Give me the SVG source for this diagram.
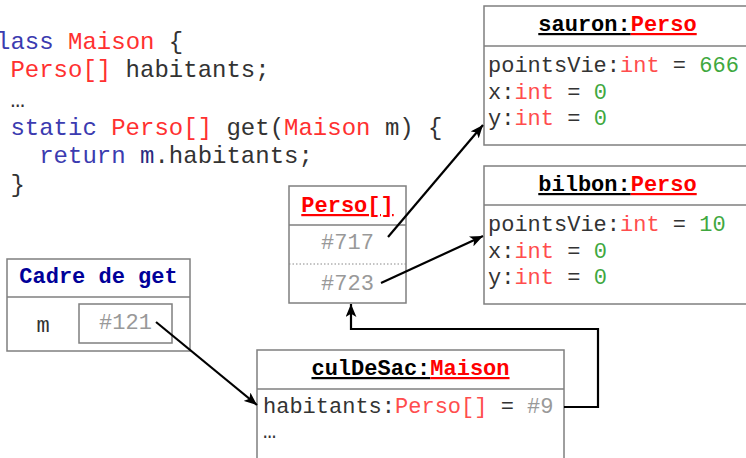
<svg xmlns="http://www.w3.org/2000/svg" width="746" height="458" viewBox="0 0 746 458">
<defs>
<style>
.code{font-family:"Liberation Mono","Courier New",monospace;font-size:24px;fill:#333}
.mono{font-family:"Liberation Mono","Courier New",monospace;font-size:22px;fill:#333}
.title{font-weight:bold;text-anchor:middle}
.u{text-decoration:underline}
.kw{fill:#3b3bb0}
.ty{fill:#ff3030}
.tyl{fill:#ff4d4d}
.val{fill:#3fa83f}
.ref{fill:#999}
.blk{fill:#000}
.red{fill:#ff0000}
.box{fill:#fff;stroke:#7f7f7f;stroke-width:1.5}
.sep{stroke:#7f7f7f;stroke-width:1.5}
.conn{fill:none;stroke:#000;stroke-width:2.2}
</style>
<marker id="arr" markerUnits="userSpaceOnUse" viewBox="0 0 12 10" refX="12" refY="5" markerWidth="13" markerHeight="11" orient="auto">
<path d="M0,0 L12,5 L0,10 L3,5 Z" fill="#000"/>
</marker>
</defs>

<g id="code" class="code" xml:space="preserve">
<text x="-18.4" y="49"><tspan class="kw">class</tspan> <tspan class="ty">Maison</tspan> {</text>
<text x="10.4" y="77"><tspan class="ty">Perso[]</tspan> habitants;</text>
<text x="10.4" y="107">…</text>
<text x="10.4" y="135"><tspan class="kw">static</tspan> <tspan class="ty">Perso[]</tspan> get(<tspan class="ty">Maison</tspan> m) {</text>
<text x="39.2" y="163"><tspan class="kw">return</tspan> <tspan fill="#2a2a80">m</tspan>.habitants;</text>
<text x="10.4" y="192">}</text>
</g>

<g id="sauron" class="mono">
<rect class="box" x="484" y="6" width="267" height="139"/>
<line class="sep" x1="484" y1="46" x2="751" y2="46"/>
<text class="title" x="617.5" y="31"><tspan class="blk u">sauron:</tspan><tspan class="red u">Perso</tspan></text>
<text x="488" y="72">pointsVie:<tspan class="tyl">int</tspan> = <tspan class="val">666</tspan></text>
<text x="488" y="99">x:<tspan class="tyl">int</tspan> = <tspan class="val">0</tspan></text>
<text x="488" y="125">y:<tspan class="tyl">int</tspan> = <tspan class="val">0</tspan></text>
</g>

<g id="bilbon" class="mono">
<rect class="box" x="484" y="166" width="267" height="138"/>
<line class="sep" x1="484" y1="205" x2="751" y2="205"/>
<text class="title" x="617.5" y="191"><tspan class="blk u">bilbon:</tspan><tspan class="red u">Perso</tspan></text>
<text x="488" y="231">pointsVie:<tspan class="tyl">int</tspan> = <tspan class="val">10</tspan></text>
<text x="488" y="258">x:<tspan class="tyl">int</tspan> = <tspan class="val">0</tspan></text>
<text x="488" y="284">y:<tspan class="tyl">int</tspan> = <tspan class="val">0</tspan></text>
</g>

<g id="tableau" class="mono">
<rect class="box" x="289" y="186" width="117" height="117"/>
<line class="sep" x1="289" y1="225" x2="406" y2="225"/>
<line x1="289" y1="264" x2="406" y2="264" stroke="#888" stroke-width="1" stroke-dasharray="1.5,2"/>
<text class="title" x="347.5" y="212"><tspan class="red u">Perso[]</tspan></text>
<text class="ref" x="347.5" y="249" text-anchor="middle">#717</text>
<text class="ref" x="347.5" y="290" text-anchor="middle">#723</text>
</g>

<g id="cadre" class="mono">
<rect class="box" x="7" y="259" width="183" height="92"/>
<line class="sep" x1="7" y1="297" x2="190" y2="297"/>
<text class="title" x="98.5" y="283" fill="#000099">Cadre de get</text>
<text x="43" y="332" text-anchor="middle">m</text>
<rect class="box" x="79" y="304" width="93" height="39"/>
<text class="ref" x="125.5" y="329" text-anchor="middle">#121</text>
</g>

<g id="culDeSac" class="mono">
<rect class="box" x="257" y="350" width="307" height="120"/>
<line class="sep" x1="257" y1="389" x2="564" y2="389"/>
<text class="title" x="410.5" y="375"><tspan class="blk u">culDeSac:</tspan><tspan class="red u">Maison</tspan></text>
<text x="263" y="413">habitants:<tspan class="tyl">Perso[]</tspan> = <tspan class="ref">#9</tspan></text>
<text x="263" y="438">…</text>
</g>

<g id="connectors">
<line class="conn" x1="388" y1="237" x2="483" y2="125" marker-end="url(#arr)"/>
<line class="conn" x1="381" y1="283" x2="483" y2="236" marker-end="url(#arr)"/>
<line class="conn" x1="156" y1="322" x2="257" y2="405" marker-end="url(#arr)"/>
<polyline class="conn" stroke-width="3" points="564,407 598,407 598,329 351,329 351,304" marker-end="url(#arr)"/>
</g>
</svg>
